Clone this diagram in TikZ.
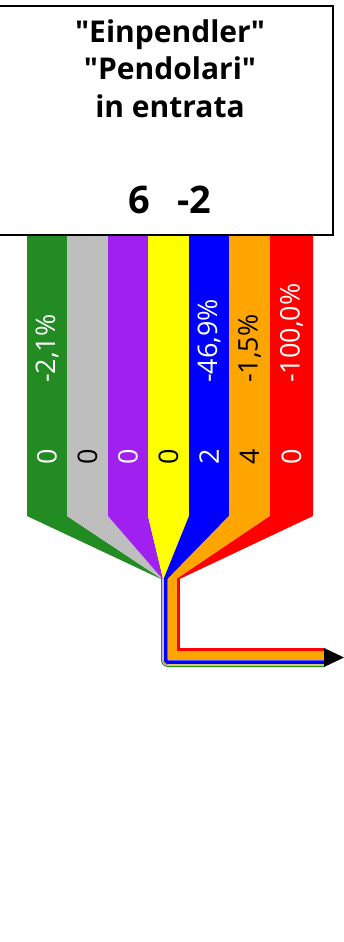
\documentclass[tikz,border=0pt]{standalone}
\usepackage{fontspec}
\setmainfont{Open Sans}
\usepackage{xcolor}
\usepackage{tikz}
\usetikzlibrary{positioning}

\definecolor{pgreen}{HTML}{228B22}
\definecolor{pgray}{HTML}{BEBEBE}
\definecolor{ppurple}{HTML}{A020F0}
\definecolor{pyellow}{HTML}{FFFF00}
\definecolor{pblue}{HTML}{0000FF}
\definecolor{porange}{HTML}{FFA500}
\definecolor{pred}{HTML}{FF0000}

\begin{document}
\begin{tikzpicture}[x=1pt, y=-1pt,
    pct/.style={rotate=90, anchor=west, inner sep=0pt, font=\fontsize{27}{27}\selectfont},
    num/.style={rotate=90, inner sep=0pt, font=\fontsize{27}{27}\selectfont},
    titel/.style={anchor=base, inner sep=0pt, font=\bfseries\fontsize{30}{30}\selectfont}]
        \useasboundingbox (0,0) rectangle (344,942);

        % Baender oben
        \fill[pgreen]  (27,230) -- (67,230) -- (67,516) -- (161.8,579) -- (161,579) -- (27,516) -- cycle;
        \fill[pgray]   (67,230) -- (108,230) -- (108,516) -- (162.6,579) -- (161.8,579) -- (67,516) -- cycle;
        \fill[ppurple] (108,230) -- (148,230) -- (148,516) -- (163.1,579) -- (162.6,579) -- (108,516) -- cycle;
        \fill[pyellow] (148,230) -- (189,230) -- (189,516) -- (163.6,579) -- (163.1,579) -- (148,516) -- cycle;
        \fill[pblue]   (189,230) -- (229,230) -- (229,516) -- (167.6,579) -- (163.6,579) -- (189,516) -- cycle;
        \fill[porange] (229,230) -- (270,230) -- (270,516) -- (176.6,579) -- (167.6,579) -- (229,516) -- cycle;
        \fill[pred]    (270,230) -- (313,230) -- (313,516) -- (179.6,579) -- (176.6,579) -- (270,516) -- cycle;

        % Strom nach unten und rechts
        \draw[pred, line width=3pt] (178.1,578) -- (178.1,649.9) -- (324,649.9);
        \draw[porange, line width=9pt] (172.1,578) -- (172.1,655.9) -- (324,655.9);
        \draw[pblue, line width=4pt, rounded corners=2.4pt] (165.6,578) -- (165.6,662.4) -- (324,662.4);
        \draw[pyellow, line width=0.5pt, rounded corners=4.65pt] (163.35,578) -- (163.35,664.65) -- (324,664.65);
        \draw[ppurple, line width=0.5pt, rounded corners=5.15pt] (162.85,578) -- (162.85,665.15) -- (324,665.15);
        \draw[pgray, line width=0.8pt, rounded corners=5.8pt] (162.2,578) -- (162.2,665.8) -- (324,665.8);
        \draw[pgreen, line width=0.8pt, rounded corners=6.6pt] (161.4,578) -- (161.4,666.6) -- (324,666.6);
        \fill (324,648) -- (344,657.5) -- (324,667) -- cycle;

        % Prozente
        \node[pct, white] (p1) at (47,383) {-2,1\%};
        \node[pct, white] (p5) at (209,383) {-46,9\%};
        \node[pct, black] (p6) at (249.5,383) {-1,5\%};
        \node[pct, white] (p7) at (291.5,383) {-100,0\%};

        % Werte
        \node[num, white] (n1) at (47,457) {0};
        \node[num, black] (n2) at (87.5,457) {0};
        \node[num, white] (n3) at (128,457) {0};
        \node[num, black] (n4) at (168.5,457) {0};
        \node[num, white] (n5) at (209,457) {2};
        \node[num, black] (n6) at (249.5,457) {4};
        \node[num, white] (n7) at (291.5,457) {0};

        % Kasten
        \draw[fill=white, line width=2pt] (-5,6) rectangle (333,235);
        \node[titel] (t1) at (170,43) {\textquotedbl Einpendler\textquotedbl};
        \node[titel] (t2) at (170,80) {\textquotedbl Pendolari\textquotedbl};
        \node[titel] (t3) at (170,117) {in entrata};
        \node[titel, font=\bfseries\fontsize{38}{38}\selectfont] (t4) at (170,213) {6\hspace{27pt}-2};
    \end{tikzpicture}
\end{document}
